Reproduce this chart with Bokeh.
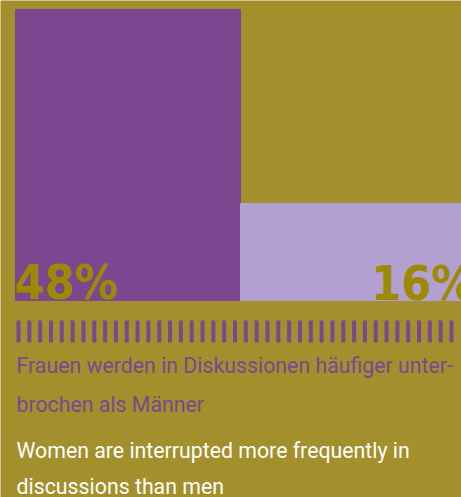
from bokeh.plotting import figure
from bokeh.models import Range1d, ColumnDataSource
from bokeh.core.properties import value
from bokeh.embed import file_html
from bokeh.resources import INLINE
import numpy as np

# data
categories = ["Frauen", "Männer"]
shares = [48, 16]
labels = ["48%", "16%"]
bar_colors = ["#7D4691", "#B3A0D0"]
title_de = ["Frauen werden in Diskussionen häufiger unter-", "brochen als Männer"]
title_en = ["Women are interrupted more frequently in", "discussions than men"]
n_ticks = 41

BG = "#A38F2B"
PURPLE = "#7D4691"
LABEL = "#9C8A00"

W, H = 461, 497
UX = 225.0              # px per category
K = 291 / 48.0          # px per percentage point
x0 = -0.5 - 15 / UX
y0 = -(H - 300) / K


def px_x(px):
    return x0 + px / UX


def px_y(py):
    return (300 - py) / K


p = figure(width=W, height=H, output_backend="svg", toolbar_location=None,
           x_range=Range1d(x0, x0 + W / UX), y_range=Range1d(y0, y0 + H / K),
           min_border=0, background_fill_color=BG, border_fill_color=BG,
           outline_line_color=None)
p.axis.visible = False
p.grid.visible = False

xs = list(range(len(categories)))
src = ColumnDataSource(dict(x=xs, top=shares, color=bar_colors, label=labels))
p.vbar(x="x", top="top", bottom=0, width=1.0, color="color", source=src)

# value labels
lab_font = dict(text_baseline="middle", text_color=LABEL, text_font_size="48px",
                text_font=value("DejaVu Sans Condensed"), text_font_style="bold")
p.text(x=[px_x(14)], y=[px_y(281)], text=[labels[0]], text_align="left", **lab_font)
p.text(x=[px_x(474)], y=[px_y(282)], text=[labels[1]], text_align="right", **lab_font)

# decorative tick row
tx = np.linspace(px_x(18), px_x(451), n_ticks)
p.segment(x0=tx, x1=tx, y0=[px_y(320)] * n_ticks, y1=[px_y(342)] * n_ticks,
          line_color=PURPLE, line_width=4)

txt_font = dict(text_baseline="middle", text_font_size="21.3px", text_font=value("Roboto"))
p.text(x=[px_x(16)] * 2, y=[px_y(365), px_y(403.5)], text=title_de,
       text_color=PURPLE, **txt_font)
p.text(x=[px_x(16)] * 2, y=[px_y(450), px_y(486)], text=title_en,
       text_color="white", **txt_font)

html = file_html(p, INLINE)
html = html.replace("<body>", '<body style="margin:0;background:%s">' % BG, 1)
open("out.html", "w").write(html)
